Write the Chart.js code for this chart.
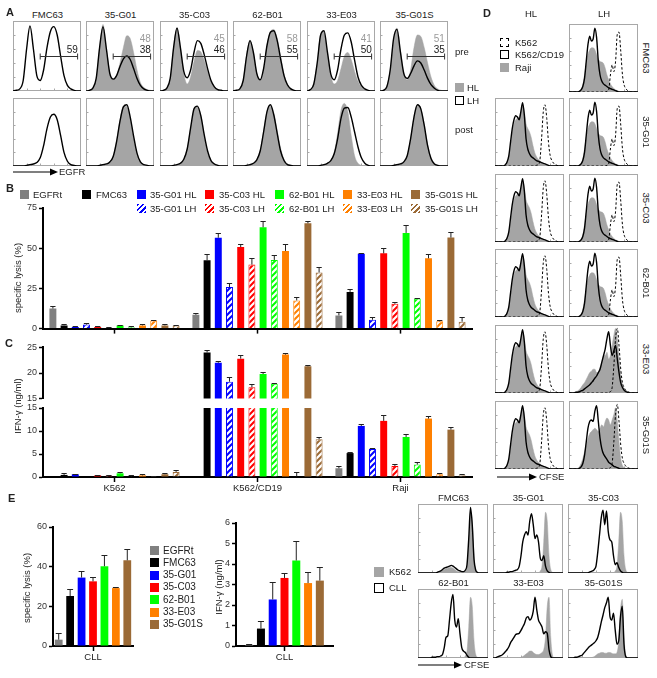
<!DOCTYPE html>
<html>
<head>
<meta charset="utf-8">
<script src="https://cdn.jsdelivr.net/npm/chart.js@4.4.1/dist/chart.umd.min.js"></script>
<style>
  body { margin: 0; background: #fff; }
  #fig { position: relative; width: 657px; height: 678px; overflow: hidden; font-family: "Liberation Sans", Arial, sans-serif; color: #222; }
  .t { position: absolute; white-space: nowrap; line-height: 1; }
  .sq { position: absolute; box-sizing: border-box; }
</style>
</head>
<body>
<div id="fig"></div>
<script>
// ---------- data: bar charts B / C ----------
const groups = ["K562", "K562/CD19", "Raji"];
const seriesNames = ["EGFRt", "FMC63", "35-G01 HL", "35-G01 LH", "35-C03 HL", "35-C03 LH",
                     "62-B01 HL", "62-B01 LH", "33-E03 HL", "33-E03 LH", "35-G01S HL", "35-G01S LH"];
const seriesColors = ["#808080", "#000000", "#0000ff", "#0000ff", "#ff0000", "#ff0000",
                      "#00ff00", "#00ff00", "#ff8000", "#ff8000", "#9b6a36", "#9b6a36"];
const seriesHatched = [false, false, false, true, false, true, false, true, false, true, false, true];

// specific lysis (%), one row per series: [K562, K562/CD19, Raji]
const lysis = [[12.5, 8.6, 8.2], [2, 42.5, 22.8], [1, 56.5, 46.6], [2.5, 25.8, 5.5], [1, 50.7, 46.8], [0.6, 39.8, 15.4],
               [2, 63, 59.5], [0.8, 42.7, 18.7], [2, 48.3, 43.7], [5, 17.5, 4.5], [2, 65.5, 56.6], [2, 34.9, 4.3]];
const lysisErr = [[1.4, 1, 2], [0.8, 3.7, 2], [0.5, 3, 0.6], [1, 2.7, 2], [0.5, 2, 3.5], [0.4, 4.1, 1.4],
                  [0.5, 4.1, 5.1], [1, 2.9, 0.6], [0.6, 4.1, 2.9], [0.5, 2, 1], [0.8, 1.6, 3.3], [0.5, 3.1, 3]];

// IFN-gamma (ng/ml)
const ifn = [[0, 0, 1.9], [0.45, 24.0, 5.2], [0.6, 22.0, 11.1], [0, 18.3, 6.1], [0.35, 22.8, 12.2], [0.3, 17.2, 2.4],
             [0.8, 19.8, 8.7], [0.1, 17.9, 2.7], [0.35, 23.6, 12.7], [0.1, 0.1, 0.6], [0.6, 21.3, 10.3], [1.1, 8.2, 0.4]];
const ifnErr = [[0, 0, 0.5], [0.45, 0.5, 0.2], [0.1, 0.3, 0.5], [0, 0.9, 0.2], [0.15, 0.8, 1.3], [0.15, 0.6, 0.5],
                [0.2, 0.4, 0.6], [0.3, 0.2, 0.6], [0.25, 0.4, 0.6], [0.1, 0.9, 0.3], [0.2, 0.3, 0.5], [0.4, 0.5, 0.3]];

// ---------- data: E bars (CLL) ----------
const cllNames = ["EGFRt", "FMC63", "35-G01", "35-C03", "62-B01", "33-E03", "35-G01S"];
const cllColors = ["#808080", "#000000", "#0000ff", "#ff0000", "#00ff00", "#ff8000", "#9b6a36"];
const cllLysis = [3.2, 25.2, 34.5, 32.6, 40.2, 29.2, 43.2];
const cllLysisErr = [3.5, 3.7, 3.2, 2.2, 5.5, 0.8, 5.9];
const cllIfn = [0.05, 0.85, 2.27, 3.32, 4.17, 3.07, 3.19];
const cllIfnErr = [0.07, 0.36, 0.83, 0.23, 0.93, 0.54, 0.65];

// ---------- data: A histograms (EGFR), 21 bins ----------
const aPanels = ["FMC63", "35-G01", "35-C03", "62-B01", "33-E03", "35-G01S"];
const aPreLH = [
  [0,1,3,15,60,93,60,22,15,30,62,85,92,80,50,22,8,3,1,0,0],
  [0,1,4,18,62,92,60,25,17,22,35,46,50,45,32,18,8,3,1,0,0],
  [0,1,4,18,62,90,62,28,19,30,55,72,68,52,32,15,6,2,1,0,0],
  [0,1,3,15,50,72,55,25,16,32,65,84,86,72,46,22,9,3,1,0,0],
  [0,2,10,40,80,86,56,24,16,30,60,80,83,70,44,20,8,3,1,0,0],
  [0,1,6,30,75,88,56,25,18,25,36,43,40,30,18,9,4,1,0,0,0]
];
const aPreHL = [
  null,
  [0,1,4,18,62,95,62,25,16,22,40,62,79,75,55,30,12,5,2,1,0],
  [0,1,4,18,62,90,62,25,10,20,42,58,56,44,28,14,6,2,1,0,0],
  [0,1,3,15,50,73,55,25,15,32,65,85,88,75,50,25,10,4,1,0,0],
  [0,2,10,40,80,85,55,22,10,15,32,50,55,45,28,14,6,2,1,0,0],
  [0,1,6,30,75,90,58,25,16,30,62,80,78,62,40,20,8,3,1,0,0]
];
const aPostLH = [
  [0,0,0,0,1,2,3,5,12,30,55,72,76,68,45,20,7,2,1,0,0],
  [0,0,0,0,1,2,3,6,14,36,66,87,90,72,44,19,6,2,1,0,0],
  [0,0,0,0,1,2,4,10,25,56,84,88,74,46,22,8,3,1,0,0,0],
  [0,0,0,0,1,2,4,9,22,50,80,90,75,48,22,8,2,1,0,0,0],
  [0,0,0,0,1,2,4,8,18,40,70,85,86,72,50,28,12,4,1,0,0],
  [0,0,0,0,1,2,3,6,15,40,72,90,84,60,30,11,3,1,0,0,0]
];
const aPostHL = [
  null,
  [0,0,0,0,1,2,3,6,15,38,68,88,88,70,42,18,6,2,1,0,0],
  [0,0,0,0,1,2,4,10,25,55,82,88,75,45,20,7,2,1,0,0,0],
  [0,0,0,0,1,2,4,9,24,52,80,88,78,52,26,10,3,1,0,0,0],
  [0,0,0,0,1,2,4,8,20,48,82,92,80,45,15,4,1,0,0,0,0],
  [0,0,0,0,1,2,3,6,15,40,72,90,85,62,32,12,4,1,0,0,0]
];
const aGateGray = [null, 48, 45, 58, 41, 51];
const aGateBlack = [59, 38, 46, 55, 50, 35];
const aGate = [8, 19, 50]; // from bin, to bin, level

// ---------- data: D histograms (CFSE), 41 bins ----------
const dRows = ["FMC63", "35-G01", "35-C03", "62-B01", "33-E03", "35-G01S"];
const dK562HL = [0,0,0,0,0,0,0,0,0,0, 0,0,0,0,0,0,0,0,0,0, 0,0,0,0,1,2,8,40,80,90, 70,35,15,8,4,2,1,0,0,0,0];
const dK562LH = [0,0,0,0,0,0,0,0,0,0, 0,0,0,0,0,0,0,0,0,0, 0,0,1,3,25,40,30,45,85,88, 60,25,10,5,2,1,0,0,0,0,0];
const dK562R  = [0,0,0,0,0,0,0,0,0,0, 0,0,0,0,0,0,0,0,0,0, 0,0,0,1,2,8,40,80,95,70, 35,15,8,4,2,1,0,0,0,0,0];
const dCD19HL = [0,0,0,0,0,0,2,6,15,35, 55,68,74,72,68,80,93,75,40,25, 18,14,12,10,8,7,6,5,4,3, 2,1,0,0,0,0,0,0,0,0,0];
const dRajiHL = [0,0,0,0,0,0,2,6,15,30, 50,62,68,70,72,80,88,80,62,55, 50,42,30,20,14,10,8,5,3,2, 1,0,0,0,0,0,0,0,0,0,0];
const dCD19LH = [0,0,0,0,0,0,1,3,8,20, 45,70,82,75,78,94,80,45,25,16, 12,10,8,6,5,4,3,2,1,0, 0,0,0,0,0,0,0,0,0,0,0];
const dRajiLH = [0,0,0,0,0,0,1,4,10,25, 42,55,62,65,65,62,55,48,45,44, 42,35,25,18,12,8,5,3,2,1, 0,0,0,0,0,0,0,0,0,0,0];
const dCD19E03 = [0,0,0,0,1,1,2,3,4,6, 8,10,12,15,18,22,25,30,35,45, 55,65,80,90,70,55,62,70,50,30, 15,8,4,2,1,0,0,0,0,0,0];
const dRajiE03 = [0,0,0,1,2,3,5,8,12,15, 20,25,30,32,35,35,30,30,38,45, 55,55,60,50,55,70,85,95,80,50, 25,12,5,2,1,0,0,0,0,0,0];
const dCD19G01S = [0,0,0,0,0,0,1,3,8,20, 40,60,70,72,70,85,93,70,45,30, 22,18,14,10,8,6,4,3,2,1, 0,0,0,0,0,0,0,0,0,0,0];
const dRajiG01S = [0,0,0,0,0,1,3,8,15,25, 35,45,52,55,58,60,58,55,60,65, 62,70,75,72,65,72,80,90,70,40, 15,5,2,1,0,0,0,0,0,0,0];
// [K562, K562/CD19, Raji] per row
const dHL = [null, [dK562HL, dCD19HL, dRajiHL], [dK562HL, dCD19HL, dRajiHL], [dK562HL, dCD19HL, dRajiHL],
             [dK562HL, dCD19HL, dRajiHL], [dK562HL, dCD19HL, dRajiHL]];
const dLH = [[dK562LH, dCD19LH, dRajiLH], [dK562LH, dCD19LH, dRajiLH], [dK562LH, dCD19LH, dRajiLH],
             [dK562LH, dCD19LH, dRajiLH], [dK562R, dCD19E03, dRajiE03], [dK562R, dCD19G01S, dRajiG01S]];

// ---------- data: E histograms (CFSE), 41 bins ----------
const eHistNames = ["FMC63", "35-G01", "35-C03", "62-B01", "33-E03", "35-G01S"];
const eK562 = [0,0,0,0,0,0,0,0,0,0, 0,0,0,0,0,0,0,0,0,0, 0,0,0,0,0,0,0,3,10,45, 88,75,25,5,1,0,0,0,0,0,0];
const eK562FMC = [0,0,0,0,0,0,0,0,0,0, 0,1,2,3,4,5,6,7,8,8, 7,5,3,2,1,1,1,3,10,45, 88,75,25,5,1,0,0,0,0,0,0];
const eK562E03 = [0,0,0,0,0,0,0,0,0,0, 0,0,0,0,0,0,1,2,4,6, 8,10,10,8,6,5,5,6,8,12, 30,75,88,30,4,0,0,0,0,0,0];
const eK562G01S = [0,0,0,0,0,0,0,0,0,0, 0,0,0,0,1,2,4,6,7,8, 8,7,7,8,8,7,6,6,8,25, 70,85,30,4,0,0,0,0,0,0,0];
const eCLLFMC = [0,0,0,0,0,0,0,0,0,0, 0,1,2,3,5,7,8,9,10,11, 10,8,6,4,3,2,2,4,12,50, 95,70,20,4,1,0,0,0,0,0,0];
const eCLLG01 = [0,0,0,0,0,0,0,0,1,1, 2,2,3,4,5,10,25,45,55,60, 55,75,86,70,50,55,45,22,18,25, 10,3,1,0,0,0,0,0,0,0,0];
const eCLLC03 = [0,0,0,0,0,0,0,0,0,0, 0,0,1,2,3,5,10,30,55,80, 91,70,90,60,48,45,25,12,15,8, 3,1,0,0,0,0,0,0,0,0,0];
const eCLLB01 = [0,0,0,0,0,0,0,0,1,1, 1,2,2,3,5,15,30,32,55,80, 92,55,45,57,35,15,10,8,4,1, 0,0,0,0,0,0,0,0,0,0,0];
const eCLLE03 = [0,0,1,2,3,4,6,9,12,16, 22,26,30,34,35,36,40,45,50,58, 60,55,58,68,88,70,55,50,45,35, 38,36,12,2,0,0,0,0,0,0,0];
const eCLLG01S = [0,0,0,0,1,1,2,3,4,7, 10,13,16,18,20,22,25,30,40,52, 62,73,80,88,60,55,65,40,20,25, 60,75,20,2,0,0,0,0,0,0,0];
const eGray = [eK562FMC, eK562, eK562, eK562, eK562E03, eK562G01S];
const eBlack = [eCLLFMC, eCLLG01, eCLLC03, eCLLB01, eCLLE03, eCLLG01S];

// ---------- helpers ----------
const fig = document.getElementById("fig");
const FONT = '"Liberation Sans", Arial, sans-serif';
Chart.defaults.font.family = FONT;
const GRAY = "#a5a5a5";

function label(text, x, y, o = {}) {
  const d = document.createElement("div");
  d.className = "t";
  d.textContent = text;
  d.style.left = x + "px";
  d.style.top = y + "px";
  d.style.fontSize = (o.size || 9.5) + "px";
  if (o.color) d.style.color = o.color;
  if (o.bold) d.style.fontWeight = "bold";
  let tx = o.align === "center" ? "-50%" : o.align === "right" ? "-100%" : "0";
  d.style.transform = o.rot ? "translate(-50%,-50%) rotate(" + o.rot + "deg)" : "translate(" + tx + ",-50%)";
  fig.appendChild(d);
}

function square(x, y, s, style) {
  const d = document.createElement("div");
  d.className = "sq";
  d.style.cssText += "left:" + x + "px;top:" + y + "px;width:" + s + "px;height:" + s + "px;" + style;
  fig.appendChild(d);
}

function arrow(x1, x2, y) {
  const s = document.createElementNS("http://www.w3.org/2000/svg", "svg");
  const w = x2 - x1;
  s.setAttribute("width", w + 1);
  s.setAttribute("height", 10);
  s.style.cssText = "position:absolute;left:" + x1 + "px;top:" + (y - 5) + "px";
  s.innerHTML = '<line x1="0" y1="5" x2="' + (w - 6) + '" y2="5" stroke="#000" stroke-width="1.2"/>' +
                '<polygon points="' + (w - 8) + ',1.5 ' + w + ',5 ' + (w - 8) + ',8.5" fill="#000"/>';
  fig.appendChild(s);
}

function makeCanvas(x, y, w, h) {
  const c = document.createElement("canvas");
  c.width = w; c.height = h;
  c.style.cssText = "position:absolute;left:" + x + "px;top:" + y + "px;width:" + w + "px;height:" + h + "px";
  fig.appendChild(c);
  return c;
}

function hatch(color) {
  const c = document.createElement("canvas");
  c.width = 6; c.height = 6;
  const g = c.getContext("2d");
  g.fillStyle = "#fff"; g.fillRect(0, 0, 6, 6);
  g.strokeStyle = color; g.lineWidth = 2;
  g.beginPath();
  g.moveTo(0, 6); g.lineTo(6, 0);
  g.moveTo(-3, 3); g.lineTo(3, -3);
  g.moveTo(3, 9); g.lineTo(9, 3);
  g.stroke();
  return g.createPattern(c, "repeat");
}

// error bars (upper half only), drawn from the y scale
const errBars = {
  id: "errBars",
  afterDatasetsDraw(chart) {
    const { ctx, chartArea: a, scales: { y } } = chart;
    ctx.save();
    ctx.beginPath(); ctx.rect(a.left, a.top, a.width, a.height); ctx.clip();
    ctx.strokeStyle = "#222"; ctx.lineWidth = 1;
    chart.data.datasets.forEach((ds, i) => {
      if (!ds.err) return;
      chart.getDatasetMeta(i).data.forEach((bar, j) => {
        const e = ds.err[j];
        if (!e) return;
        const v = ds.data[j];
        const top = Math.round(y.getPixelForValue(v + e)) + 0.5;
        const base = y.getPixelForValue(v);
        const hw = bar.width * 0.38;
        ctx.beginPath();
        ctx.moveTo(bar.x, base); ctx.lineTo(bar.x, top);
        ctx.moveTo(bar.x - hw, top); ctx.lineTo(bar.x + hw, top);
        ctx.stroke();
      });
    });
    ctx.restore();
  }
};

// frame + small ticks for the flow histograms
const frame = {
  id: "frame",
  beforeDatasetsDraw(chart) {
    const { ctx, chartArea: a } = chart;
    ctx.save();
    ctx.strokeStyle = "#a8a8a8"; ctx.lineWidth = 1;
    ctx.strokeRect(a.left + 0.5, a.top + 0.5, a.width - 1, a.height - 1);
    ctx.beginPath();
    for (let k = 1; k < 5; k++) {
      const yy = Math.round(a.top + a.height * k / 5) + 0.5;
      ctx.moveTo(a.left, yy); ctx.lineTo(a.left + 2.5, yy);
      const xx = Math.round(a.left + a.width * k / 5) + 0.5;
      ctx.moveTo(xx, a.bottom); ctx.lineTo(xx, a.bottom - 2.5);
    }
    ctx.stroke();
    ctx.restore();
  }
};

const gatePlugin = {
  id: "gate",
  afterDatasetsDraw(chart, args, o) {
    if (!o || o.from == null) return;
    const { ctx, scales: { x, y } } = chart;
    const x1 = x.getPixelForValue(o.from), x2 = x.getPixelForValue(o.to);
    const yy = Math.round(y.getPixelForValue(o.level)) + 0.5;
    ctx.save();
    ctx.strokeStyle = "#333"; ctx.lineWidth = 1;
    ctx.beginPath();
    ctx.moveTo(x1, yy); ctx.lineTo(x2, yy);
    ctx.moveTo(x1, yy - 3); ctx.lineTo(x1, yy + 3);
    ctx.moveTo(x2, yy - 3); ctx.lineTo(x2, yy + 3);
    ctx.stroke();
    ctx.restore();
  }
};

// layers: [{d, kind: 'line' | 'dash' | 'fill'}]
function hist(x, y, w, h, layers, gate) {
  const c = makeCanvas(x, y, w, h);
  const n = layers[0].d.length;
  const datasets = layers.map(l => ({
    data: l.d,
    borderColor: l.kind === "fill" ? GRAY : "#000",
    backgroundColor: GRAY,
    borderWidth: l.kind === "fill" ? 0.5 : (l.kind === "dash" ? 1 : 1.4),
    borderDash: l.kind === "dash" ? [2.5, 2] : [],
    fill: l.kind === "fill" ? "origin" : false,
    order: l.kind === "fill" ? 3 : (l.kind === "dash" ? 2 : 1),
    pointRadius: 0,
    cubicInterpolationMode: "monotone"
  }));
  new Chart(c, {
    type: "line",
    data: { labels: [...Array(n).keys()], datasets },
    options: {
      responsive: false, animation: false, events: [],
      layout: { padding: { top: 1, right: 1, bottom: 0, left: 0 } },
      plugins: { legend: { display: false }, tooltip: { enabled: false }, gate: gate || {} },
      scales: {
        x: { display: false, offset: false },
        y: { display: false, min: 0, max: 100 }
      }
    },
    plugins: [frame, gatePlugin]
  });
}

const tickFont = { size: 9, family: FONT };

function barChart(o) {
  const c = makeCanvas(o.x, o.y, o.w, o.h);
  const datasets = o.series.map(s => ({
    data: s.data,
    err: s.err,
    backgroundColor: s.hatched ? hatch(s.color) : s.color,
    borderColor: s.color,
    borderWidth: s.hatched ? 1 : 0,
    categoryPercentage: o.cat,
    barPercentage: o.bar
  }));
  return new Chart(c, {
    type: "bar",
    data: { labels: o.labels, datasets },
    options: {
      responsive: false, animation: false, events: [],
      layout: { padding: o.pad },
      plugins: { legend: { display: false }, tooltip: { enabled: false } },
      scales: {
        x: {
          display: o.xShow !== false,
          offset: true,
          grid: { display: true, drawOnChartArea: false, offset: false, tickLength: 5, tickColor: "#000", tickWidth: 1.5 },
          border: { display: true, width: 2, color: "#000" },
          ticks: { display: !!o.xTicks, font: { size: 9.5, family: FONT }, color: "#222", padding: 1, maxRotation: 0 },
          afterFit: s => { s.height = o.xH; }
        },
        y: {
          min: o.min, max: o.max,
          ticks: { stepSize: o.step, font: tickFont, color: "#333", padding: 2 },
          grid: { display: true, drawOnChartArea: false, tickLength: 4, tickColor: "#000", tickWidth: 1.5 },
          border: { display: true, width: 2, color: "#000" },
          afterFit: s => { s.width = o.yW; }
        }
      }
    },
    plugins: [errBars]
  });
}

// ---------- panel A ----------
const aX = [13, 86, 160, 233, 307, 380], aW = 69;
aPanels.forEach((name, k) => {
  const bx = aX[k];
  label(name, bx + aW / 2, 15, { align: "center" });
  const pre = [{ d: aPreLH[k], kind: "line" }];
  if (aPreHL[k]) pre.push({ d: aPreHL[k], kind: "fill" });
  hist(bx, 20, aW, 71, pre, { from: aGate[0], to: aGate[1], level: aGate[2] });
  if (aGateGray[k] != null) label(String(aGateGray[k]), bx + aW * 0.94, 39, { align: "right", color: "#9a9a9a", size: 10 });
  label(String(aGateBlack[k]), bx + aW * 0.94, 50, { align: "right", size: 10 });
  const post = [{ d: aPostLH[k], kind: "line" }];
  if (aPostHL[k]) post.push({ d: aPostHL[k], kind: "fill" });
  hist(bx, 97, aW, 69, post);
});
label("pre", 455, 52);
label("post", 455, 130);
square(455, 83, 9, "background:" + GRAY);
label("HL", 467, 88);
square(455, 96, 9, "border:1px solid #000;background:#fff");
label("LH", 467, 101);
arrow(13, 58, 172);
label("EGFR", 59, 172);

// ---------- panel B ----------
const barSeries = (vals, errs) => seriesNames.map((n, i) => ({
  data: vals[i], err: errs[i], color: seriesColors[i], hatched: seriesHatched[i]
}));
barChart({ x: 0, y: 200, w: 480, h: 136, labels: groups, series: barSeries(lysis, lysisErr),
           pad: { top: 8, right: 8, bottom: 0, left: 0 }, yW: 43, xH: 6, min: 0, max: 75, step: 25, cat: 0.94, bar: 0.62 });
label("specific lysis (%)", 18, 278, { rot: -90 });

// legend B
const legX = [20, 82, 137, 205, 275, 343, 411];
const legTX = [33, 96, 150, 219, 289, 357, 425];
const legHL = [0, 1, 2, 4, 6, 8, 10];
legHL.forEach((si, k) => {
  square(legX[k], 190, 9, "background:" + seriesColors[si]);
  label(seriesNames[si], legTX[k], 194.5);
  if (k >= 2) {
    const lh = si + 1;
    square(legX[k], 204, 9, "background:repeating-linear-gradient(135deg," + seriesColors[lh] + " 0 2px,#fff 2px 3.6px)");
    label(seriesNames[lh], legTX[k], 208.5);
  }
});

// ---------- panel C (broken axis) ----------
barChart({ x: 0, y: 340, w: 480, h: 66, labels: groups, series: barSeries(ifn, ifnErr), xShow: false,
           pad: { top: 7, right: 8, bottom: 6, left: 0 }, yW: 43, xH: 0, min: 15, max: 25, step: 5, cat: 0.94, bar: 0.62 });
barChart({ x: 0, y: 400, w: 480, h: 93, labels: groups, series: barSeries(ifn, ifnErr), xTicks: true,
           pad: { top: 8, right: 8, bottom: 0, left: 0 }, yW: 43, xH: 16, min: 0, max: 15, step: 5, cat: 0.94, bar: 0.62 });
label("IFN-\u03b3 (ng/ml)", 18, 406, { rot: -90 });

// ---------- panel D ----------
const dX = [495, 569], dY = [23, 97, 173, 248, 324, 400], dW = 70, dH = 69;
const dLayers = s => [{ d: s[1], kind: "line" }, { d: s[0], kind: "dash" }, { d: s[2], kind: "fill" }];
dRows.forEach((r, k) => {
  if (dHL[k]) hist(dX[0], dY[k], dW, dH, dLayers(dHL[k]));
  hist(dX[1], dY[k], dW, dH, dLayers(dLH[k]));
  label(r, 646, dY[k] + dH / 2, { rot: 90 });
});
label("HL", 531, 14, { align: "center" });
label("LH", 604, 14, { align: "center" });
square(500, 38, 9, "border:1px dashed #000;background:#fff");
label("K562", 515, 43);
square(500, 50, 9, "border:1px solid #000;background:#fff");
label("K562/CD19", 515, 55);
square(500, 63, 9, "background:" + GRAY);
label("Raji", 515, 68);
arrow(497, 537, 477);
label("CFSE", 539, 477);

// ---------- panel E ----------
const cllSeries = (vals, errs) => cllNames.map((n, i) => ({ data: [vals[i]], err: [errs[i]], color: cllColors[i], hatched: false }));
barChart({ x: 0, y: 515, w: 140, h: 152, labels: ["CLL"], series: cllSeries(cllLysis, cllLysisErr), xTicks: true,
           pad: { top: 12, right: 7, bottom: 0, left: 0 }, yW: 53, xH: 21, min: 0, max: 60, step: 20, cat: 1.0, bar: 0.68 });
label("specific lysis (%)", 27, 588, { rot: -90 });
barChart({ x: 190, y: 515, w: 150, h: 152, labels: ["CLL"], series: cllSeries(cllIfn, cllIfnErr), xTicks: true,
           pad: { top: 8, right: 7, bottom: 0, left: 0 }, yW: 46, xH: 21, min: 0, max: 6, step: 1, cat: 0.85, bar: 0.68 });
label("IFN-\u03b3 (ng/ml)", 219, 587, { rot: -90 });

cllNames.forEach((n, i) => {
  square(150, 546 + i * 12.3, 9, "background:" + cllColors[i]);
  label(n, 163, 550.5 + i * 12.3, { size: 10 });
});

const eHX = [418, 493, 568], eHY = [503, 588];
eHistNames.forEach((n, k) => {
  const bx = eHX[k % 3], by = eHY[Math.floor(k / 3)];
  label(n, bx + 35.5, by - 5.5, { align: "center" });
  hist(bx, by, 71, 70, [{ d: eBlack[k], kind: "line" }, { d: eGray[k], kind: "fill" }]);
});
square(374, 567, 10, "background:" + GRAY);
label("K562", 389, 572);
square(374, 583, 10, "border:1px solid #000;background:#fff");
label("CLL", 389, 588);
arrow(418, 462, 665);
label("CFSE", 464, 665);

// ---------- panel letters ----------
label("A", 6, 12, { bold: true, size: 11 });
label("B", 6, 188, { bold: true, size: 11 });
label("C", 5, 343, { bold: true, size: 11 });
label("D", 483, 13, { bold: true, size: 11 });
label("E", 8, 498, { bold: true, size: 11 });
</script>
</body>
</html>
